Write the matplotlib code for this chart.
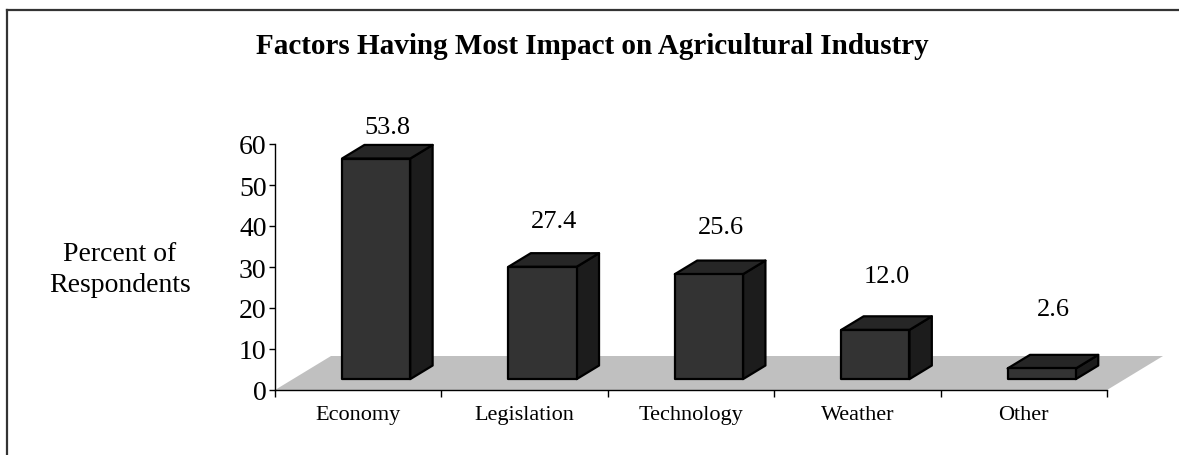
import matplotlib
matplotlib.use('Agg')
import matplotlib.pyplot as plt
from matplotlib.patches import Polygon
from matplotlib.lines import Line2D
import numpy as np

plt.rcParams['font.family'] = ['Liberation Serif', 'DejaVu Serif']

# Survey results
categories = ['Economy', 'Legislation', 'Technology', 'Weather', 'Other']
percents = [53.8, 27.4, 25.6, 12.0, 2.6]
y_ticks = [0, 10, 20, 30, 40, 50, 60]

W, H = 1179, 456
fig = plt.figure(figsize=(W / 100, H / 100), dpi=100)
fig.patch.set_facecolor('white')

# plot area: y=0 at 391px, y=60 at 145px, x axis from 275px to 1107px
ax = fig.add_axes([275 / W, (H - 391) / H, 832 / W, 246 / H])
n = len(categories)
ax.set_xlim(0, n)
ax.set_ylim(0, 60)

# depth of the 3-D floor, in data units
DX = 56 / (832 / n)
DY = 34 / (246 / 60)

floor = Polygon([(0, 0), (n, 0), (n + DX, DY), (DX, DY)], closed=True,
                facecolor='#c0c0c0', edgecolor='none', zorder=1, clip_on=False)
ax.add_patch(floor)

half_w = 0.205
d_front, d_back = 0.32, 0.72
for i, (cat, v) in enumerate(zip(categories, percents)):
    c = i + 0.5
    x0 = c - half_w + d_front * DX
    x1 = c + half_w + d_front * DX
    y0 = d_front * DY
    ox = (d_back - d_front) * DX
    oy = (d_back - d_front) * DY
    front = [(x0, y0), (x1, y0), (x1, y0 + v), (x0, y0 + v)]
    top = [(x0, y0 + v), (x1, y0 + v), (x1 + ox, y0 + v + oy), (x0 + ox, y0 + v + oy)]
    side = [(x1, y0), (x1 + ox, y0 + oy), (x1 + ox, y0 + v + oy), (x1, y0 + v)]
    for pts, col in ((side, '#1c1c1c'), (top, '#262626'), (front, '#333333')):
        ax.add_patch(Polygon(pts, closed=True, facecolor=col, edgecolor='black',
                             linewidth=1.6, joinstyle='round', zorder=3, clip_on=False))
    # value label above the bar
    ax.text(c + 0.53 * DX, 17.5 + 0.865 * v, f'{v:.1f}', ha='center', va='center',
            fontsize=19, zorder=5, clip_on=False)

ax.spines['top'].set_visible(False)
ax.spines['right'].set_visible(False)
for s in ('left', 'bottom'):
    ax.spines[s].set_linewidth(1.0)
    ax.spines[s].set_zorder(4)
ax.set_facecolor('none')

ax.set_yticks(y_ticks)
ax.set_yticklabels([str(t) for t in y_ticks])
ax.tick_params(axis='y', direction='out', length=4, width=1, pad=2, labelsize=20)

ax.set_xticks(np.arange(n + 1))
ax.set_xticklabels([])
ax.set_xticks(np.arange(n) + 0.5, minor=True)
ax.set_xticklabels(categories, minor=True)
ax.tick_params(axis='x', which='major', direction='out', length=5, width=1)
ax.tick_params(axis='x', which='minor', length=0, pad=11, labelsize=16)

fig.text(592 / W, 1 - 47 / H, 'Factors Having Most Impact on Agricultural Industry',
         ha='center', va='center', fontsize=21, fontweight='bold')
fig.text(120 / W, 1 - 270 / H, 'Percent of\nRespondents', ha='center', va='center',
         fontsize=20, linespacing=1.35)

# outer frame (top and left edges)
fig.add_artist(Line2D([7.5 / W, 1], [1 - 10.5 / H, 1 - 10.5 / H], color='#333333', linewidth=1.6))
fig.add_artist(Line2D([7.5 / W, 7.5 / W], [0, 1 - 10.5 / H], color='#333333', linewidth=1.6))

fig.savefig('out.png', dpi=100, facecolor='white')
plt.close(fig)
